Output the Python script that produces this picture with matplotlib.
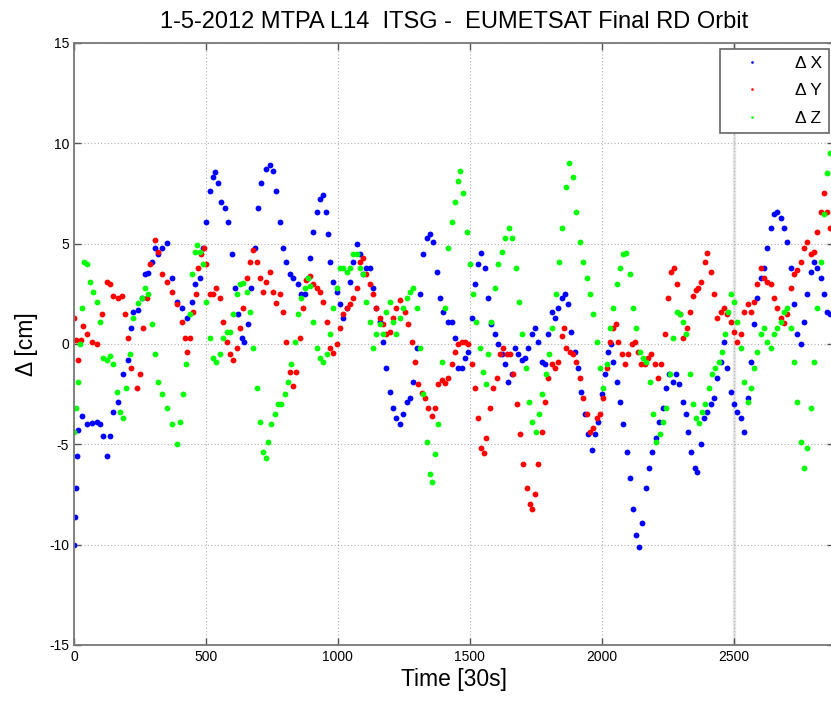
import matplotlib
matplotlib.use("Agg")
import matplotlib.pyplot as plt

# ---- 軌道差分データ (x: 30s epoch, 値: cm) ----
t_dx = [0, 4, 8, 12, 16, 29, 48, 67, 86, 99, 111, 124, 136, 149, 168, 187, 206, 218, 225, 244,
        256, 269, 282, 294, 307, 320, 335, 351, 370, 389, 408, 427, 446, 458, 477, 490, 502, 515,
        527, 536, 546, 559, 571, 584, 597, 609, 622, 635, 645, 660, 672, 685, 698, 710, 729, 742,
        754, 767, 780, 792, 805, 818, 830, 849, 862, 874, 887, 894, 906, 919, 932, 942, 955, 963,
        972, 982, 995, 1007, 1020, 1033, 1045, 1058, 1071, 1083, 1096, 1108, 1121, 1134, 1146,
        1159, 1172, 1184, 1197, 1209, 1222, 1235, 1247, 1260, 1273, 1285, 1298, 1310, 1323, 1336,
        1348, 1361, 1374, 1386, 1399, 1418, 1431, 1443, 1456, 1469, 1481, 1494, 1507, 1519, 1532,
        1544, 1557, 1570, 1582, 1595, 1608, 1620, 1633, 1646, 1658, 1671, 1684, 1696, 1709, 1721,
        1734, 1747, 1759, 1772, 1785, 1797, 1810, 1823, 1835, 1848, 1860, 1873, 1885, 1898, 1910,
        1923, 1936, 1948, 1961, 1974, 1986, 1999, 2011, 2024, 2033, 2043, 2056, 2068, 2081, 2094,
        2106, 2119, 2131, 2142, 2154, 2167, 2180, 2192, 2205, 2217, 2230, 2243, 2255, 2268, 2280,
        2293, 2306, 2318, 2327, 2339, 2352, 2362, 2375, 2387, 2400, 2413, 2425, 2438, 2451, 2463,
        2476, 2489, 2501, 2514, 2526, 2539, 2552, 2564, 2577, 2589, 2602, 2615, 2627, 2640, 2652,
        2665, 2678, 2690, 2703, 2715, 2728, 2741, 2753, 2766, 2778, 2791, 2804, 2816, 2829, 2842,
        2854, 2866]
dx = [-10.0, -8.6, -7.2, -5.6, -4.3, -3.6, -4.0, -3.95, -3.9, -4.0, -4.6, -5.6, -4.6, -3.4, -2.9,
      -1.5, -0.8, 0.8, 1.6, 1.7, 2.3, 3.5, 3.55, 4.1, 4.8, 4.5, 4.8, 5.05, 3.3, 2.1, 1.8, 1.3,
      2.1, 3.0, 3.3, 4.8, 6.1, 7.6, 8.3, 8.55, 8.0, 7.1, 6.8, 6.1, 4.5, 2.8, 1.5, 0.3, 0.1, 1.0,
      2.8, 4.8, 6.8, 8.0, 8.7, 8.9, 8.6, 7.6, 6.1, 4.8, 4.1, 3.5, 3.3, 3.0, 2.5, 2.5, 3.3, 4.3,
      5.6, 6.6, 7.2, 7.4, 6.6, 5.5, 4.1, 3.1, 2.6, 2.0, 1.3, 1.8, 3.1, 4.1, 5.0, 4.5, 3.5, 3.8,
      3.8, 2.8, 1.8, 1.1, 0.1, -1.2, -2.4, -3.2, -3.7, -4.0, -3.5, -2.9, -2.7, -1.9, -0.2, 2.5,
      4.5, 5.3, 5.5, 5.1, 3.6, 2.3, 1.6, 1.1, 1.1, 0.3, -1.2, -1.2, -0.7, -0.4, 1.3, 3.0, 4.0,
      4.55, 3.8, 2.3, 1.0, 0.5, 0.0, -0.5, -1.0, -1.9, -1.5, -0.2, -0.5, -0.8, -0.7, -0.2, 0.5,
      0.8, 0.1, -0.9, -1.0, 0.5, 1.6, 1.3, 1.8, 2.3, 2.5, 2.0, 0.6, -0.4, -1.2, -2.4, -3.5, -4.5,
      -5.3, -4.5, -3.9, -2.5, -1.5, -0.4, 0.0, -0.9, -1.9, -2.9, -4.0, -5.4, -6.7, -8.2, -9.5,
      -10.1, -8.9, -7.2, -6.2, -5.4, -4.7, -3.9, -3.2, -2.2, -1.5, -1.9, -1.5, -2.0, -2.9, -3.5,
      -4.4, -5.4, -6.2, -6.4, -5.0, -3.7, -3.4, -3.0, -2.7, -1.7, -0.9, 0.1, -1.2, -2.4, -3.0,
      -3.4, -3.7, -4.4, -2.7, -0.9, 1.0, 2.3, 3.3, 3.8, 4.8, 5.8, 6.5, 6.6, 6.3, 5.8, 5.1, 3.8,
      2.0, 0.5, 0.0, 1.1, 2.5, 3.6, 4.1, 3.8, 3.3, 2.5, 1.6, 1.5]

t_dy = [0, 8, 16, 25, 35, 48, 67, 86, 105, 124, 136, 149, 168, 181, 193, 206, 218, 237, 250, 263,
        275, 288, 307, 320, 332, 351, 370, 389, 408, 420, 430, 440, 452, 462, 471, 483, 494, 502,
        515, 527, 540, 553, 565, 578, 591, 603, 616, 628, 641, 654, 666, 679, 692, 704, 717, 729,
        742, 754, 767, 780, 792, 805, 818, 830, 843, 856, 868, 881, 893, 906, 919, 932, 944, 957,
        970, 982, 995, 1007, 1020, 1033, 1045, 1058, 1071, 1083, 1096, 1108, 1121, 1134, 1146,
        1159, 1172, 1184, 1197, 1209, 1222, 1237, 1254, 1266, 1279, 1292, 1304, 1317, 1329, 1342,
        1355, 1367, 1380, 1393, 1405, 1418, 1431, 1443, 1456, 1469, 1481, 1494, 1507, 1519, 1532,
        1544, 1554, 1563, 1576, 1588, 1601, 1614, 1626, 1639, 1651, 1664, 1677, 1689, 1702, 1715,
        1727, 1736, 1747, 1759, 1772, 1785, 1797, 1810, 1823, 1835, 1848, 1858, 1866, 1879, 1891,
        1904, 1917, 1929, 1942, 1955, 1967, 1980, 1993, 2005, 2018, 2030, 2043, 2053, 2062, 2075,
        2087, 2100, 2113, 2125, 2138, 2150, 2163, 2176, 2188, 2201, 2213, 2226, 2239, 2251, 2264,
        2273, 2283, 2295, 2308, 2321, 2333, 2346, 2358, 2365, 2377, 2390, 2400, 2413, 2425, 2438,
        2451, 2463, 2476, 2489, 2501, 2514, 2526, 2539, 2552, 2564, 2577, 2589, 2602, 2615, 2627,
        2640, 2652, 2665, 2678, 2690, 2703, 2715, 2728, 2741, 2753, 2766, 2778, 2791, 2804, 2816,
        2829, 2842, 2854, 2866]
dy = [1.3, 0.2, -0.8, 0.2, 0.9, 0.5, 0.1, 0.0, 1.5, 3.1, 3.0, 2.4, 2.3, 2.4, 1.5, 0.3, -1.2, -2.2,
      -1.5, 0.8, 2.3, 4.0, 5.2, 4.6, 3.5, 3.1, 2.6, 2.0, 1.1, 0.3, -0.4, 0.3, 1.6, 2.5, 3.8, 4.5,
      4.8, 4.0, 2.5, 2.5, 2.8, 2.3, 1.1, 0.1, -0.5, -0.8, -0.2, 0.8, 1.8, 3.3, 4.1, 4.7, 4.1, 3.3,
      2.6, 3.1, 3.6, 2.6, 2.05, 2.5, 1.6, 0.1, -1.4, -2.1, -1.4, 0.3, 1.8, 3.2, 3.4, 3.0, 2.8,
      2.6, 2.1, 1.1, -0.2, -0.45, 0.0, 0.8, 1.5, 1.8, 2.0, 2.3, 2.8, 4.1, 4.3, 3.5, 3.0, 2.5, 1.8,
      1.3, 1.0, 0.5, 0.6, 1.3, 1.8, 2.2, 1.6, 1.0, 0.1, -0.9, -2.0, -2.45, -2.7, -3.2, -3.6, -3.2,
      -2.0, -1.8, -1.95, -1.7, -1.0, -0.4, 0.0, 0.1, 0.1, 0.0, -1.0, -2.2, -3.7, -5.2, -5.45,
      -4.7, -3.2, -2.2, -1.7, -0.5, -0.2, -0.5, -0.5, -1.5, -3.0, -4.5, -6.0, -7.2, -7.95, -8.2,
      -7.5, -6.0, -4.4, -2.9, -1.7, -1.0, -1.2, -0.9, 0.4, 0.8, -0.2, -0.4, -0.5, -0.9, -1.7,
      -2.7, -3.5, -4.4, -4.2, -3.7, -3.5, -2.7, -1.2, 0.1, 0.8, 1.0, 0.1, -0.5, -1.0, -0.5, 0.0,
      0.1, -0.4, -1.0, -1.0, -0.7, -0.5, -1.0, -1.7, -1.0, 0.5, 2.3, 3.6, 3.8, 3.0, 1.5, 0.3, 0.8,
      1.6, 2.4, 2.7, 2.8, 3.1, 4.1, 4.55, 3.6, 2.5, 1.3, 1.6, 1.8, 1.5, 1.1, 0.6, 0.1, 0.5, 1.6,
      2.0, 1.6, 2.1, 3.0, 3.8, 3.3, 3.1, 3.0, 2.3, 1.8, 1.3, 1.05, 1.5, 2.8, 3.5, 3.7, 4.1, 4.8,
      5.1, 4.5, 4.6, 5.6, 6.6, 7.5, 6.6, 5.8]

t_dz = [0, 8, 16, 23, 29, 38, 48, 61, 73, 86, 99, 111, 124, 136, 149, 162, 174, 187, 199, 212, 225,
        244, 256, 269, 282, 294, 307, 320, 332, 351, 370, 389, 402, 414, 426, 438, 448, 457, 466,
        477, 490, 502, 515, 527, 540, 553, 565, 578, 591, 603, 616, 628, 641, 654, 666, 679, 692,
        704, 717, 726, 736, 748, 761, 773, 786, 798, 811, 824, 836, 849, 862, 874, 887, 894, 906,
        919, 932, 944, 957, 970, 982, 995, 1007, 1020, 1033, 1045, 1058, 1071, 1083, 1096, 1108,
        1121, 1134, 1146, 1159, 1172, 1184, 1197, 1209, 1222, 1235, 1247, 1260, 1273, 1285, 1298,
        1310, 1323, 1336, 1348, 1358, 1367, 1380, 1393, 1405, 1418, 1431, 1443, 1456, 1463, 1475,
        1488, 1500, 1513, 1525, 1538, 1551, 1560, 1570, 1582, 1595, 1608, 1620, 1633, 1648, 1661,
        1674, 1686, 1699, 1712, 1724, 1737, 1750, 1762, 1775, 1788, 1800, 1813, 1825, 1838, 1851,
        1863, 1876, 1891, 1904, 1917, 1929, 1942, 1955, 1967, 1980, 1993, 2005, 2018, 2030, 2043,
        2056, 2068, 2081, 2091, 2106, 2119, 2131, 2144, 2157, 2169, 2182, 2194, 2207, 2220, 2232,
        2245, 2258, 2270, 2283, 2295, 2308, 2320, 2333, 2346, 2358, 2367, 2380, 2392, 2405, 2418,
        2430, 2443, 2456, 2468, 2478, 2491, 2501, 2514, 2526, 2539, 2552, 2564, 2577, 2589, 2602,
        2615, 2627, 2640, 2652, 2665, 2678, 2690, 2703, 2715, 2728, 2741, 2753, 2766, 2778, 2791,
        2804, 2816, 2829, 2842, 2854, 2866]
dz = [-4.4, -3.2, -1.9, 0.0, 1.8, 4.1, 4.0, 3.1, 2.6, 2.1, 1.1, -0.7, -0.8, -0.6, -1.0, -2.4, -3.4,
      -3.7, -2.2, -0.5, 1.3, 2.05, 2.3, 2.8, 2.5, 1.0, -0.5, -1.9, -2.5, -3.2, -4.0, -5.0, -3.9,
      -2.5, -1.0, 1.5, 3.5, 4.6, 4.95, 4.6, 4.0, 2.1, 0.3, -0.7, -0.9, -0.5, 0.3, 0.6, 0.6, 1.5,
      2.5, 3.0, 3.05, 2.6, 1.6, -0.2, -2.2, -3.9, -5.4, -5.7, -4.9, -4.0, -3.5, -3.0, -3.0, -2.5,
      -1.9, -1.0, 0.1, 1.5, 2.3, 2.8, 3.3, 2.9, 1.1, -0.2, -0.7, -0.9, -0.5, 0.5, 1.8, 2.8, 3.8,
      3.8, 3.6, 3.8, 4.5, 4.5, 3.8, 3.5, 2.1, 1.1, -0.2, 0.5, 1.0, 0.5, 1.6, 2.1, 1.1, 0.5, 1.3,
      1.8, 2.3, 2.6, 2.8, 1.8, -0.2, -2.5, -4.9, -6.5, -6.9, -5.5, -4.0, -0.9, 1.8, 4.8, 6.1, 7.1,
      8.1, 8.6, 7.5, 5.6, 4.0, 2.5, 1.1, -0.2, -1.4, -2.0, -0.5, 1.1, 2.8, 4.0, 4.6, 5.3, 5.8, 5.3,
      3.8, 2.1, 0.5, -1.2, -2.9, -3.9, -4.4, -3.5, -2.5, -1.5, -0.5, 0.8, 2.5, 4.1, 5.8, 7.8, 9.0,
      8.3, 6.6, 5.1, 4.1, 3.3, 2.5, 1.5, 0.1, -1.2, -2.2, -1.0, 0.8, 1.8, 3.0, 3.8, 4.5, 4.55,
      3.5, 1.8, 0.8, -0.4, -0.7, -0.9, -1.9, -3.5, -4.9, -4.5, -3.9, -3.2, -1.5, 0.3, 1.6, 1.5,
      1.1, 0.5, -1.5, -3.0, -3.7, -3.95, -3.4, -3.0, -2.2, -1.5, -1.2, -0.9, -0.4, 0.5, 1.6, 2.5,
      2.1, 1.1, -0.2, -1.9, -2.9, -2.2, -1.2, -0.4, 0.5, 0.8, 0.1, -0.2, 0.5, 0.8, 1.1, 1.6, 1.8,
      0.8, -0.9, -2.9, -4.9, -6.2, -5.2, -3.2, -0.9, 1.8, 4.1, 6.5, 8.5, 9.5]

x_ticks = [0, 500, 1000, 1500, 2000, 2500]
y_ticks = [-15, -10, -5, 0, 5, 10, 15]

plt.rcParams["font.family"] = ["Liberation Sans", "DejaVu Sans"]
plt.rcParams["axes.unicode_minus"] = False

fig = plt.figure(figsize=(8.31, 7.01), dpi=100)
ax = fig.add_axes([0.089, 0.0799, 0.9147, 0.8588])

# 各成分を点で描画 (X, Y, Z の順)
ms = 4.2
ax.plot(t_dx, dx, "o", color=(0, 0, 1), markersize=ms, markeredgewidth=0, label="Δ X")
ax.plot(t_dy, dy, "o", color=(1, 0, 0), markersize=ms, markeredgewidth=0, label="Δ Y")
ax.plot(t_dz, dz, "o", color=(0, 1, 0), markersize=ms, markeredgewidth=0, label="Δ Z")

ax.set_xlim(0, 2880)
ax.set_ylim(-15, 15)
ax.set_xticks(x_ticks)
ax.set_yticks(y_ticks)
ax.grid(True, linestyle=(0, (1, 2)), color="#b0b0b0", linewidth=0.8)
ax.axvline(2500, color="#e6e6e6", linewidth=2.5, zorder=0)

ax.tick_params(direction="in", length=5, width=1, top=True, right=True,
               labelsize=10, colors="#555555", labelcolor="black")
for sp in ax.spines.values():
    sp.set_color("#777777")
    sp.set_linewidth(1.3)

ax.set_title("1-5-2012 MTPA L14  ITSG -  EUMETSAT Final RD Orbit", fontsize=17, pad=11)
ax.set_xlabel("Time [30s]", fontsize=16.5, labelpad=3)
ax.set_ylabel("Δ [cm]", fontsize=16.5, labelpad=8)

leg = ax.legend(loc="upper right", bbox_to_anchor=(0.9934, 0.990), borderaxespad=0,
                fancybox=False, edgecolor="#666666", fontsize=12.5, markerscale=0.45,
                handlelength=2.8, handletextpad=1.1, labelspacing=0.7, borderpad=0.4,
                framealpha=1)
leg.get_frame().set_linewidth(1.2)

fig.savefig("out.png", dpi=100)
